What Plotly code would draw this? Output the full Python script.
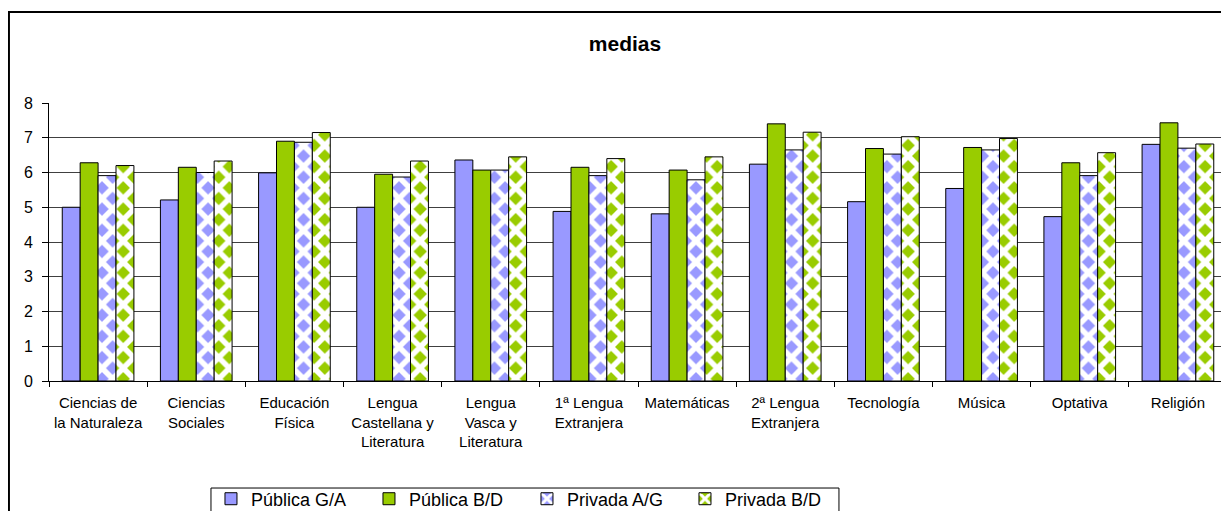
import plotly.graph_objects as go

# subjects on the x axis (Excel style wrapped labels)
asignaturas = [
    "Ciencias de<br>la Naturaleza",
    "Ciencias<br>Sociales",
    "Educación<br>Física",
    "Lengua<br>Castellana y<br>Literatura",
    "Lengua<br>Vasca y<br>Literatura",
    "1ª Lengua<br>Extranjera",
    "Matemáticas",
    "2ª Lengua<br>Extranjera",
    "Tecnología",
    "Música",
    "Optativa",
    "Religión",
]

publica_ga = [5.0, 5.21, 5.99, 5.0, 6.36, 4.88, 4.81, 6.24, 5.16, 5.54, 4.73, 6.81]
publica_bd = [6.28, 6.15, 6.9, 5.95, 6.07, 6.15, 6.07, 7.4, 6.69, 6.72, 6.28, 7.43]
privada_ag = [5.91, 6.0, 6.87, 5.87, 6.07, 5.91, 5.79, 6.65, 6.53, 6.65, 5.91, 6.7]
privada_bd = [6.2, 6.33, 7.15, 6.33, 6.45, 6.4, 6.45, 7.16, 7.03, 6.98, 6.57, 6.82]

BLUE = "#9999FF"
GREEN = "#99CC00"
FONT = "Arial, Liberation Sans, sans-serif"


def diamonds(colour):
    # white criss-cross net over the colour leaves a lattice of coloured diamonds
    return dict(shape="x", fillmode="replace", bgcolor=colour, fgcolor="white",
                size=15, solidity=0.6)


fig = go.Figure()

fig.add_trace(go.Bar(x=asignaturas, y=publica_ga, name="Pública G/A",
                     marker=dict(color=BLUE, line=dict(color="black", width=1))))
fig.add_trace(go.Bar(x=asignaturas, y=publica_bd, name="Pública B/D",
                     marker=dict(color=GREEN, line=dict(color="black", width=1))))
fig.add_trace(go.Bar(x=asignaturas, y=privada_ag, name="Privada A/G",
                     marker=dict(color=BLUE, line=dict(color="black", width=1),
                                 pattern=diamonds(BLUE))))
fig.add_trace(go.Bar(x=asignaturas, y=privada_bd, name="Privada B/D",
                     marker=dict(color=GREEN, line=dict(color="black", width=1),
                                 pattern=diamonds(GREEN))))

# outer chart-area frame, runs off the right and bottom edge like the original
fig.add_shape(type="rect", xref="paper", yref="paper",
              x0=-0.034, x1=1.05, y0=-0.7, y1=1.327,
              line=dict(color="black", width=2), layer="below")
# legend frame (its lower edge falls outside the picture, as in the original)
fig.add_shape(type="rect", xref="paper", yref="paper",
              x0=0.1375, x1=0.6706, y0=-0.6, y1=-0.385,
              line=dict(color="black", width=1), layer="below")

# the page adds an 8px body margin, so the figure is a bit smaller than the window
fig.update_layout(
    width=1221, height=503,
    margin=dict(l=41, r=2, t=95, b=130, autoexpand=False),
    paper_bgcolor="white", plot_bgcolor="white",
    font=dict(family=FONT, size=15, color="black"),
    title=dict(text="<b>medias</b>", x=0.489, xref="paper", xanchor="center",
               y=0.93, yanchor="middle", font=dict(size=21)),
    barmode="group", bargap=0.27, bargroupgap=0,
    legend=dict(orientation="h", x=0.1375, xanchor="left", y=-0.358, yanchor="top",
                borderwidth=0, bgcolor="rgba(0,0,0,0)", font=dict(size=18),
                entrywidth=113, itemwidth=30),
    showlegend=True,
)

fig.update_xaxes(showline=True, linecolor="black", linewidth=1,
                 ticks="outside", tickson="boundaries", ticklen=5, tickcolor="black",
                 tickangle=0, showgrid=False, automargin=False,
                 tickfont=dict(size=15), ticklabelstandoff=8)
fig.update_yaxes(range=[0, 8], dtick=1, showline=True, linecolor="black", linewidth=1,
                 ticks="outside", ticklen=6, tickcolor="black",
                 showgrid=True, gridcolor="#404040", gridwidth=1,
                 tickfont=dict(size=16), zeroline=False, automargin=False,
                 ticklabelstandoff=6)

fig.write_html("out.html")
